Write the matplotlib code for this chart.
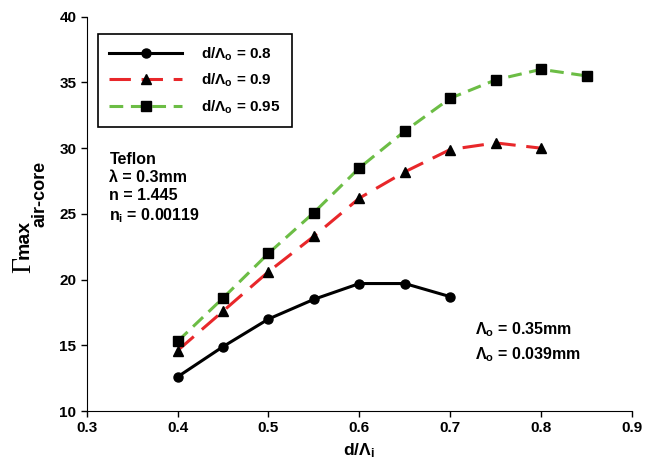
import numpy as np
import matplotlib.pyplot as plt

plt.rcParams['font.family'] = ['Liberation Sans', 'DejaVu Sans']
plt.rcParams['font.weight'] = 'bold'
plt.rcParams['mathtext.fontset'] = 'custom'
plt.rcParams['mathtext.rm'] = 'Liberation Serif'
plt.rcParams['mathtext.sf'] = 'Liberation Sans:bold'
plt.rcParams['mathtext.bf'] = 'Liberation Sans:bold'
plt.rcParams['mathtext.it'] = 'Liberation Sans:bold'

# d/Lambda_i sweep for three outer ratios
x_08 = [0.40, 0.45, 0.50, 0.55, 0.60, 0.65, 0.70]
y_08 = [12.6, 14.9, 17.0, 18.5, 19.7, 19.7, 18.7]
x_09 = [0.40, 0.45, 0.50, 0.55, 0.60, 0.65, 0.70, 0.75, 0.80]
y_09 = [14.6, 17.6, 20.6, 23.3, 26.2, 28.2, 29.9, 30.4, 30.0]
x_095 = [0.40, 0.45, 0.50, 0.55, 0.60, 0.65, 0.70, 0.75, 0.80, 0.85]
y_095 = [15.3, 18.6, 22.0, 25.1, 28.5, 31.3, 33.8, 35.2, 36.0, 35.5]

W, H = 657, 466
fig = plt.figure(figsize=(W / 100, H / 100), dpi=100)
ax = fig.add_axes([0.132, 0.118, 0.830, 0.846])

ax.plot(x_08, y_08, color='black', lw=2.2, marker='o', ms=6.5,
        label=r'd/Λ$_\mathbf{o}$ = 0.8')
ax.plot(x_09, y_09, color='#e8272a', lw=2.2, dashes=(7, 3.5), marker='^', ms=7,
        mfc='black', mec='black', label=r'd/Λ$_\mathbf{o}$ = 0.9')
ax.plot(x_095, y_095, color='#6cbd45', lw=2.2, dashes=(4.5, 2.5), marker='s', ms=6.5,
        mfc='black', mec='black', label=r'd/Λ$_\mathbf{o}$ = 0.95')

ax.set_xlim(0.3, 0.9)
ax.set_ylim(10, 40)
ax.set_xticks(np.arange(0.3, 0.91, 0.1))
ax.set_xticklabels(['0.3', '0.4', '0.5', '0.6', '0.7', '0.8', '0.9'])
ax.set_yticks(range(10, 41, 5))
ax.tick_params(direction='out', length=4, width=1, labelsize=11)
for lbl in ax.get_xticklabels() + ax.get_yticklabels():
    lbl.set_fontweight('bold')
ax.spines['top'].set_visible(False)
ax.spines['right'].set_visible(False)

ax.set_xlabel(r'd/Λ$_\mathbf{i}$', fontsize=12.5, fontweight='bold')

# y label pieces: Gamma, superscript, subscript
narrow = ['Liberation Sans Narrow', 'Liberation Sans']
fig.text(24 / W, 1 - 265 / H, 'Γ', family='Liberation Serif', fontweight='normal',
         size=20, rotation=90, ha='center', va='center')
fig.text(24.5 / W, 1 - 239 / H, 'max', family=narrow, size=14,
         rotation=90, ha='center', va='center')
fig.text(40 / W, 1 - 194 / H, 'air-core', family=narrow, size=13,
         rotation=90, ha='center', va='center')

leg = ax.legend(loc='upper left', bbox_to_anchor=(0.020, 0.957), fontsize=11,
                handlelength=4.8, handletextpad=1.2, borderpad=0.75,
                labelspacing=0.6, borderaxespad=0,
                fancybox=False, edgecolor='black', framealpha=1)
leg.get_frame().set_linewidth(1.2)

ax.text(0.325, 29.7, 'Teflon\nλ = 0.3mm\nn = 1.445\nn$_\\mathbf{i}$ = 0.00119',
        fontsize=11.5, fontweight='bold', va='top', linespacing=1.25)
ax.text(0.727, 16.9, 'Λ$_\\mathbf{o}$ = 0.35mm\nΛ$_\\mathbf{o}$ = 0.039mm',
        fontsize=11.5, fontweight='bold', va='top', linespacing=1.45)

fig.savefig('out.png', dpi=100)
